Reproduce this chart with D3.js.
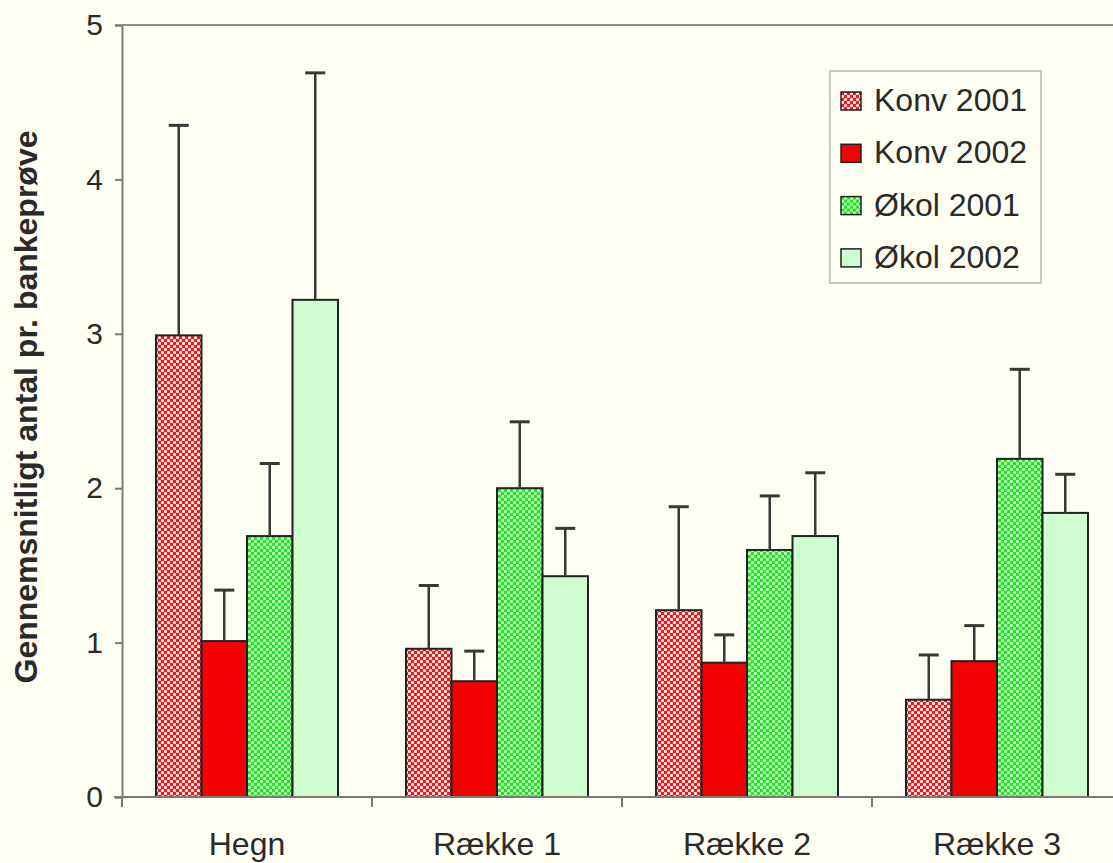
<!DOCTYPE html>
<html>
<head>
<meta charset="utf-8">
<script src="https://cdn.jsdelivr.net/npm/d3@7"></script>
<style>
  html, body { margin: 0; padding: 0; background: #fefef2; }
  svg { display: block; }
</style>
</head>
<body>
<svg id="chart" width="1113" height="863"></svg>
<script>
// Mean count per beating sample, per location and system/year
const categories = ["Hegn", "Række 1", "Række 2", "Række 3"];
const seriesNames = ["Konv 2001", "Konv 2002", "Økol 2001", "Økol 2002"];
const konv2001 = [2.99, 0.96, 1.21, 0.63];
const konv2002 = [1.01, 0.75, 0.87, 0.88];
const okol2001 = [1.69, 2.00, 1.60, 2.19];
const okol2002 = [3.22, 1.43, 1.69, 1.84];
// upper end of the error bars
const konv2001Err = [4.35, 1.37, 1.88, 0.92];
const konv2002Err = [1.34, 0.945, 1.05, 1.11];
const okol2001Err = [2.16, 2.43, 1.95, 2.77];
const okol2002Err = [4.69, 1.74, 2.10, 2.09];
const yTicks = [0, 1, 2, 3, 4, 5];

const values = [konv2001, konv2002, okol2001, okol2002];
const errs = [konv2001Err, konv2002Err, okol2001Err, okol2002Err];

const svg = d3.select("#chart");
const bg = "#fefef2";
const font = "Liberation Sans, Arial, sans-serif";
const textColor = "#2a2a2a";
const plotLeft = 122, plotRight = 1122, plotTop = 25, plotBottom = 797;

const defs = svg.append("defs");
function dotPattern(id, base, dot) {
  const p = defs.append("pattern").attr("id", id)
    .attr("patternUnits", "userSpaceOnUse").attr("width", 6).attr("height", 6);
  p.append("rect").attr("width", 6).attr("height", 6).attr("fill", base);
  p.append("circle").attr("cx", 1.5).attr("cy", 1.5).attr("r", 1.6).attr("fill", dot);
  p.append("circle").attr("cx", 4.5).attr("cy", 4.5).attr("r", 1.6).attr("fill", dot);
}
dotPattern("konv01", "#f01818", "#fff4ee");
dotPattern("okol01", "#22e622", "#c8ffc8");

const fills = ["url(#konv01)", "#f40000", "url(#okol01)", "#cdfdcf"];

const x = d3.scaleBand().domain(categories).range([plotLeft, plotRight]).paddingInner(0).paddingOuter(0);
const xInner = d3.scaleBand().domain(seriesNames).range([34, 250 - 34]);
const y = d3.scaleLinear().domain([0, 5]).range([plotBottom, plotTop]);

// frame top line
svg.append("line").attr("x1", plotLeft).attr("x2", plotRight).attr("y1", plotTop).attr("y2", plotTop)
  .attr("stroke", "#8a8a86").attr("stroke-width", 2);

// bars
const groups = svg.append("g").selectAll("g").data(categories).join("g")
  .attr("transform", d => `translate(${x(d)},0)`);

seriesNames.forEach((s, si) => {
  groups.append("rect")
    .attr("x", xInner(s))
    .attr("width", xInner.bandwidth())
    .attr("y", (d, i) => y(values[si][i]))
    .attr("height", (d, i) => plotBottom - y(values[si][i]))
    .attr("fill", fills[si])
    .attr("stroke", "#222")
    .attr("stroke-width", 2);
});

// error bars
seriesNames.forEach((s, si) => {
  const cx = xInner(s) + xInner.bandwidth() / 2;
  groups.append("line")
    .attr("x1", cx).attr("x2", cx)
    .attr("y1", (d, i) => y(values[si][i]))
    .attr("y2", (d, i) => y(errs[si][i]))
    .attr("stroke", "#383838").attr("stroke-width", 2.5);
  groups.append("line")
    .attr("x1", cx - 10).attr("x2", cx + 10)
    .attr("y1", (d, i) => y(errs[si][i]))
    .attr("y2", (d, i) => y(errs[si][i]))
    .attr("stroke", "#383838").attr("stroke-width", 3);
});

// y axis
const yAxis = svg.append("g").attr("transform", `translate(${plotLeft},0)`)
  .call(d3.axisLeft(y).tickValues(yTicks).tickSize(7).tickPadding(12).tickFormat(d3.format("d")));
yAxis.select(".domain").attr("stroke", "#7a7a76").attr("stroke-width", 2);
yAxis.selectAll(".tick line").attr("stroke", "#7a7a76").attr("stroke-width", 2);
yAxis.selectAll("text").attr("font-family", font)
  .attr("font-size", 30).attr("fill", textColor);

// x axis
const xAxis = svg.append("g").attr("transform", `translate(0,${plotBottom})`)
  .call(d3.axisBottom(x).tickSize(0).tickPadding(35));
xAxis.select(".domain").remove();
svg.append("line").attr("x1", plotLeft - 8).attr("x2", plotRight).attr("y1", plotBottom).attr("y2", plotBottom)
  .attr("stroke", "#7a7a76").attr("stroke-width", 2);
svg.append("g").selectAll("line").data(categories).join("line")
  .attr("x1", d => x(d)).attr("x2", d => x(d))
  .attr("y1", plotBottom).attr("y2", plotBottom + 10)
  .attr("stroke", "#7a7a76").attr("stroke-width", 2);
xAxis.selectAll("text").attr("font-family", font)
  .attr("font-size", 32).attr("fill", textColor);

// y axis title
svg.append("text")
  .attr("transform", `translate(37,${(plotTop + plotBottom) / 2 - 4}) rotate(-90)`)
  .attr("text-anchor", "middle")
  .attr("font-family", font)
  .attr("font-weight", "bold").attr("font-size", 32).attr("fill", textColor)
  .text("Gennemsnitligt antal pr. bankeprøve");

// legend
const lg = svg.append("g").attr("transform", "translate(830,71)");
lg.append("rect").attr("width", 211).attr("height", 212)
  .attr("fill", bg).attr("stroke", "#c8c8c2").attr("stroke-width", 2);
const items = lg.selectAll("g").data(seriesNames).join("g")
  .attr("transform", (d, i) => `translate(11,${30 + i * 52.3})`);
items.append("rect").attr("x", 0).attr("y", -9).attr("width", 20).attr("height", 18)
  .attr("fill", (d, i) => fills[i]).attr("stroke", "#222").attr("stroke-width", 1.5);
items.append("text").attr("x", 33).attr("y", 10)
  .attr("font-family", font)
  .attr("font-size", 32).attr("fill", textColor)
  .text(d => d);
</script>
</body>
</html>
